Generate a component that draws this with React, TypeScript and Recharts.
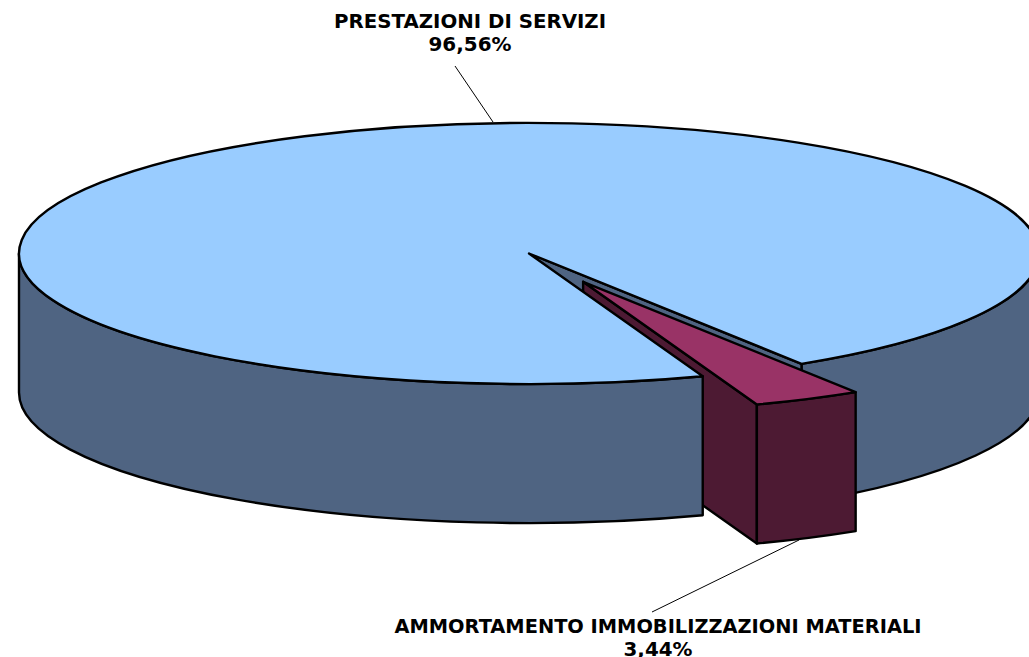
import React from "react";
import { PieChart, Pie } from "recharts";

const names = ["AMMORTAMENTO IMMOBILIZZAZIONI MATERIALI", "PRESTAZIONI DI SERVIZI"];
const percents = ["3,44%", "96,56%"];
const values = [3.44, 96.56];

const topColors = ["#993366", "#99CCFF"];
const sideColors = ["#4D1A33", "#4F6482"];

const chartData = names.map((name, i) => ({ name, value: values[i], fill: topColors[i] }));

const CX = 529;
const CY = 253.5;
const RADIUS = 510;
const SQUASH = 0.256;
const DEPTH = 139;
const EXPLODE = 123;
const START_ANGLE = -57.7;

const rad = (deg: number) => (deg * Math.PI) / 180;

// project a point of the flat pie on the tilted ellipse
const project = (x: number, y: number, r: number, deg: number) => ({
  x: x + r * Math.cos(rad(deg)),
  y: y - r * Math.sin(rad(deg)) * SQUASH,
});

const arc = (r: number, to: { x: number; y: number }, large: boolean, sweep: boolean) =>
  `A${r} ${r * SQUASH} 0 ${large ? 1 : 0} ${sweep ? 1 : 0} ${to.x} ${to.y}`;

const face = { stroke: "#000", strokeWidth: 2.4, strokeLinejoin: "round" as const };

// outer wall between two angles, a > b, both on the front half
const wall = (x: number, y: number, r: number, a: number, b: number, fill: string) => {
  const p = project(x, y, r, a);
  const q = project(x, y, r, b);
  const back = { x: p.x, y: p.y + DEPTH };
  return (
    <path
      d={`M${p.x} ${p.y} ${arc(r, q, false, true)} L${q.x} ${q.y + DEPTH} ${arc(r, back, false, false)} Z`}
      fill={fill}
      {...face}
    />
  );
};

// flat wall from the pie centre to the rim
const cutWall = (x: number, y: number, r: number, deg: number, fill: string) => {
  const p = project(x, y, r, deg);
  return (
    <path
      d={`M${x} ${y} L${p.x} ${p.y} V${p.y + DEPTH} L${x} ${y + DEPTH} Z`}
      fill={fill}
      {...face}
    />
  );
};

const topFace = (x: number, y: number, r: number, from: number, to: number, fill: string) => {
  const p = project(x, y, r, from);
  const q = project(x, y, r, to);
  const large = Math.abs(to - from) > 180;
  return <path d={`M${x} ${y} L${p.x} ${p.y} ${arc(r, q, large, true)} Z`} fill={fill} {...face} />;
};

// back layer: the parts of the big slice that sit behind the small one
const BackSector = (props: any) => {
  const { cx, cy, outerRadius, endAngle, index } = props;
  if (index === 0) return <g />;
  const rightEdge = endAngle + 360;
  return (
    <g>
      {wall(cx, cy, outerRadius, 0, rightEdge, sideColors[1])}
      {cutWall(cx, cy, outerRadius, rightEdge, sideColors[1])}
    </g>
  );
};

// front layer: the exploded small slice, then front wall and top of the big one
const FrontSector = (props: any) => {
  const { cx, cy, outerRadius, startAngle, endAngle, index } = props;
  if (index === 0) {
    const o = project(cx, cy, EXPLODE, (startAngle + endAngle) / 2);
    return (
      <g>
        {cutWall(o.x, o.y, outerRadius, endAngle, sideColors[0])}
        {wall(o.x, o.y, outerRadius, startAngle, endAngle, sideColors[0])}
        {topFace(o.x, o.y, outerRadius, startAngle, endAngle, topColors[0])}
      </g>
    );
  }
  return (
    <g>
      {wall(cx, cy, outerRadius, startAngle, -180, sideColors[1])}
      {topFace(cx, cy, outerRadius, startAngle, endAngle, topColors[1])}
    </g>
  );
};

const labelBoxes = [
  { x: 658, y: 633, nameWidth: 527, percentWidth: 69, line: [799, 540, 652, 612] },
  { x: 470, y: 28, nameWidth: 272, percentWidth: 83, line: [455, 66, 493, 122] },
];

const labelFont = { fontFamily: "DejaVu Sans", fontWeight: "bold", fontSize: 18.67, fill: "#000" };

const renderLabel = (props: any) => {
  const { index } = props;
  const box = labelBoxes[index];
  const [x1, y1, x2, y2] = box.line;
  return (
    <g key={names[index]}>
      <line x1={x1} y1={y1} x2={x2} y2={y2} stroke="#000" strokeWidth={1} />
      <text
        x={box.x}
        y={box.y}
        textAnchor="middle"
        textLength={box.nameWidth}
        lengthAdjust="spacingAndGlyphs"
        {...labelFont}
      >
        {names[index]}
      </text>
      <text
        x={box.x}
        y={box.y + 23}
        textAnchor="middle"
        textLength={box.percentWidth}
        lengthAdjust="spacingAndGlyphs"
        {...labelFont}
      >
        {percents[index]}
      </text>
    </g>
  );
};

export default function App() {
  const angles = { startAngle: START_ANGLE, endAngle: START_ANGLE - 360 };
  return (
    <div style={{ position: "absolute", left: 0, top: 0, width: 1029, height: 657, overflow: "hidden", background: "#fff" }}>
      <PieChart width={1029} height={657} margin={{ top: 0, right: 0, bottom: 0, left: 0 }}>
        <Pie
          data={chartData}
          dataKey="value"
          nameKey="name"
          cx={CX}
          cy={CY}
          innerRadius={0}
          outerRadius={RADIUS}
          {...angles}
          stroke="none"
          isAnimationActive={false}
          shape={BackSector}
        />
        <Pie
          data={chartData}
          dataKey="value"
          nameKey="name"
          cx={CX}
          cy={CY}
          innerRadius={0}
          outerRadius={RADIUS}
          {...angles}
          stroke="none"
          isAnimationActive={false}
          shape={FrontSector}
          label={renderLabel}
          labelLine={false}
        />
      </PieChart>
    </div>
  );
}
